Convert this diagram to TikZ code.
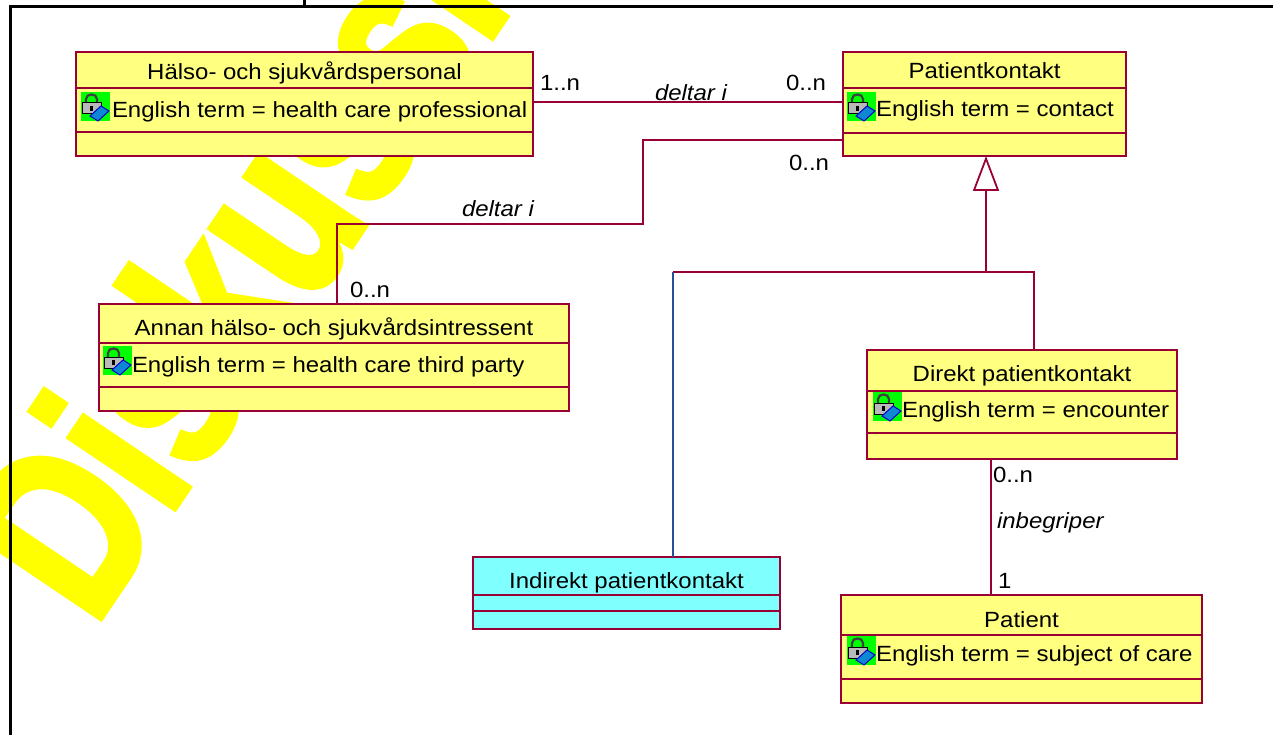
\documentclass[tikz,border=0pt]{standalone}
\usepackage{fontspec}
\setmainfont{Liberation Sans}[FakeStretch=1.09]
\newfontfamily\wmfont{Liberation Sans Bold}[FakeStretch=0.76, FakeBold=2.5]
\usetikzlibrary{arrows.meta}
\definecolor{umlred}{RGB}{153,0,51}
\definecolor{umlyellow}{RGB}{255,255,128}
\definecolor{umlcyan}{RGB}{128,255,255}
\definecolor{umlblue}{RGB}{40,80,150}
\definecolor{wmyellow}{RGB}{255,255,0}
\definecolor{icgreen}{RGB}{0,255,0}
\tikzset{
  classbox/.style={draw=umlred, line width=2.4pt, outer sep=0pt, inner sep=0pt, anchor=north west},
  divline/.style={draw=umlred, line width=2pt},
  assoc/.style={draw=umlred, line width=1.8pt},
  blueline/.style={draw=umlblue, line width=1.8pt},
  frameline/.style={draw=black, line width=3pt},
  txt/.style={inner sep=0pt, outer sep=0pt, font=\fontsize{22}{24}\selectfont, text=black},
  itxt/.style={txt, font=\fontsize{22}{24}\selectfont\itshape},
  wm/.style={inner sep=0pt, outer sep=0pt, text=wmyellow, font=\wmfont\fontsize{240}{240}\selectfont},
  attric/.pic={
    \fill[icgreen] (0,0) rectangle (29,29);
    \draw[black!75, line width=2.2pt] (5,12) -- (5,7) .. controls (5,1) and (16,1) .. (16,7) -- (16,12);
    \filldraw[fill=gray!55, draw=black, line width=1pt] (1,11) rectangle (20,22);
    \fill[black] (9,14) rectangle (12,19);
    \filldraw[fill=cyan!70!blue, draw=blue!80!black, line width=1pt] (9,24) -- (20,14) -- (28,19) -- (17,29) -- cycle;
  }
}
\newcommand\umlbox[8]{%
  \node[classbox, fill=#8, minimum width={#4-#2}, minimum height={#5-#3}] (#1) at (#2,#3) {};
  \draw[divline] (#2,#6) -- (#4,#6);
  \draw[divline] (#2,#7) -- (#4,#7);
}
\begin{document}
\begin{tikzpicture}[x=1pt,y=-1pt]
\useasboundingbox (0,0) rectangle (1273,735);
\fill[white] (0,0) rectangle (1273,735);
% watermark
\begin{scope}
  \clip (0,0) rectangle (1273,735);
  \node[wm, rotate=56, anchor=base west] (wmk) at (94,628) {Diskussion};
\end{scope}
% frame
\draw[frameline] (10,735) -- (10,7) -- (1273,7);
\draw[frameline] (304,0) -- (304,7);

% classes
\umlbox{hp}{76}{52}{533}{156}{88}{132}{umlyellow}
\umlbox{pk}{843}{52}{1126}{156}{88}{133}{umlyellow}
\umlbox{an}{99}{304}{569}{411}{343}{387}{umlyellow}
\umlbox{dp}{867}{350}{1177}{459}{391}{433}{umlyellow}
\umlbox{ip}{473}{557}{780}{629}{595}{611}{umlcyan}
\umlbox{pa}{841}{595}{1202}{703}{635}{679}{umlyellow}

% texts
\node[txt, anchor=base] (hpt) at (304.5,80) {Hälso- och sjukvårdspersonal};
\pic at (81,92) {attric};
\node[txt, anchor=base west] (hpa) at (112,118) {English term = health care professional};

\node[txt, anchor=base] (pkt) at (984.5,79) {Patientkontakt};
\pic at (847,92) {attric};
\node[txt, anchor=base west] (pka) at (876,117) {English term = contact};

\node[txt, anchor=base] (ant) at (334,335) {Annan hälso- och sjukvårdsintressent};
\pic at (103,346) {attric};
\node[txt, anchor=base west] (ana) at (132,372) {English term = health care third party};

\node[txt, anchor=base] (dpt) at (1022,381) {Direkt patientkontakt};
\pic at (873,392) {attric};
\node[txt, anchor=base west] (dpa) at (902,417) {English term = encounter};

\node[txt, anchor=base] (ipt) at (626.5,588) {Indirekt patientkontakt};

\node[txt, anchor=base] (pat) at (1021.5,627) {Patient};
\pic at (847,636) {attric};
\node[txt, anchor=base west] (paa) at (876,661) {English term = subject of care};

% connectors
\coordinate (j1) at (673,272);
\coordinate (j2) at ([xshift=1.5pt]pk.south |- j1);
\draw[assoc] ([yshift=2pt]hp.east) -- ([yshift=2pt]pk.west);
\draw[assoc] ([yshift=-36pt]pk.west) -| (643,224) -| ([xshift=3pt]an.north);
\draw[assoc] ([xshift=12pt]dp.north) |- (j1);
\draw[assoc, -{Triangle[open, length=35pt, width=26pt, fill=white]}] (j2) -- ([xshift=1.5pt]pk.south);
\draw[blueline] ([xshift=46.5pt]ip.north) -- (j1);
\draw[assoc] ([xshift=-31pt]dp.south) -- ([xshift=-31pt]dp.south |- pa.north);

% labels
\node[txt, anchor=base west] (l1) at (540,91) {1..n};
\node[itxt, anchor=base west] (l2) at (655,101) {deltar i};
\node[txt, anchor=base west] (l3) at (786,91) {0..n};
\node[txt, anchor=base west] (l4) at (789,171) {0..n};
\node[itxt, anchor=base west] (l5) at (462,217) {deltar i};
\node[txt, anchor=base west] (l6) at (350,297) {0..n};
\node[txt, anchor=base west] (l7) at (993,482) {0..n};
\node[itxt, anchor=base west] (l8) at (997,528) {inbegriper};
\node[txt, anchor=base west] (l9) at (998,588) {1};
\end{tikzpicture}
\end{document}
